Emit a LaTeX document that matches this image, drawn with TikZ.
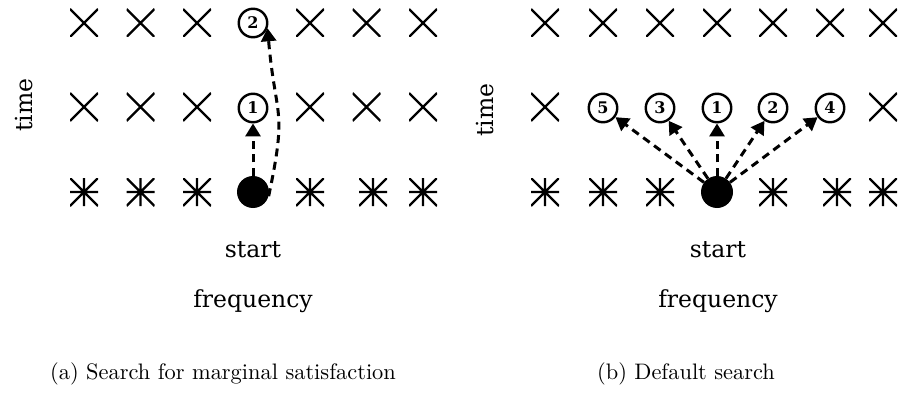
\documentclass[tikz,border=0pt]{standalone}
\usepackage{fontspec}
\newfontfamily\lblfont{DejaVu Serif}
\usetikzlibrary{arrows.meta}
\tikzset{
  mk/.style={minimum size=28pt, inner sep=0pt, outer sep=0pt},
  xmark/.style={mk, path picture={\draw[line width=2.4pt]
      (path picture bounding box.south west) -- (path picture bounding box.north east)
      (path picture bounding box.north west) -- (path picture bounding box.south east);}},
  amark/.style={mk, path picture={\draw[line width=2.4pt]
      (path picture bounding box.south west) -- (path picture bounding box.north east)
      (path picture bounding box.north west) -- (path picture bounding box.south east)
      (path picture bounding box.north) -- (path picture bounding box.south)
      (path picture bounding box.west) -- (path picture bounding box.east);}},
  num/.style={circle, draw, line width=2.4pt, minimum size=28.5pt, inner sep=0pt,
      font=\lblfont\bfseries\fontsize{16}{16}\selectfont},
  startdot/.style={circle, fill, minimum size=32pt, inner sep=0pt},
  arr/.style={-{Triangle[length=13pt,width=15pt]}, line width=3pt, dash pattern=on 8pt off 5.5pt},
  lbl/.style={font=\lblfont\fontsize{23.5}{23.5}\selectfont, anchor=base, inner sep=0pt},
  captext/.style={font=\fontsize{10}{12}\selectfont, scale=2.24, anchor=base, inner sep=0pt},
}
\begin{document}
\begin{tikzpicture}[x=1pt,y=1pt]
\useasboundingbox (0,0) rectangle (901,-393);
% ---------- panel (a) ----------
\foreach \x [count=\i] in {84,140.5,197,310,366.5,423} {
  \node[xmark] (at\i) at (\x,-23) {};
  \node[xmark] (am\i) at (\x,-107) {};
}
\foreach \x [count=\i] in {84,140.5,197,310,373,423} {
  \node[amark] (ab\i) at (\x,-192) {};
}
\node[num] (ac2) at (253,-23) {2};
\node[num] (ac1) at (253,-108) {1};
\node[startdot] (as) at (253,-192) {};
\draw[arr] (as) -- (ac1);
\draw[arr] (as.-15) to[out=78,in=-85,looseness=1.4] (ac2.-20);
\node[lbl] (astart) at (253,-257) {start};
\node[lbl] (afreq) at (253,-307) {frequency};
\node[lbl, rotate=90] (atime) at (32,-105) {time};
\node[captext] (acap) at (223,-379) {(a) Search for marginal satisfaction};
% ---------- panel (b) ----------
\foreach \x [count=\i] in {545,603,660,717,773,830,883} {
  \node[xmark] (bt\i) at (\x,-23) {};
}
\node[xmark] (bm1) at (545,-107) {};
\node[xmark] (bm2) at (883,-107) {};
\foreach \x [count=\i] in {545,603,660,773,837,883} {
  \node[amark] (bb\i) at (\x,-192) {};
}
\node[num] (bc5) at (603,-108) {5};
\node[num] (bc3) at (660,-108) {3};
\node[num] (bc1) at (717,-108) {1};
\node[num] (bc2) at (773,-108) {2};
\node[num] (bc4) at (830,-108) {4};
\node[startdot] (bs) at (717,-192) {};
\foreach \t in {bc5,bc3,bc1,bc2,bc4} {
  \draw[arr] (bs) -- (\t);
}
\node[lbl] (bstart) at (718,-257) {start};
\node[lbl] (bfreq) at (718,-307) {frequency};
\node[lbl, rotate=90] (btime) at (493,-110) {time};
\node[captext] (bcap) at (686,-379) {(b) Default search};
\end{tikzpicture}
\end{document}
